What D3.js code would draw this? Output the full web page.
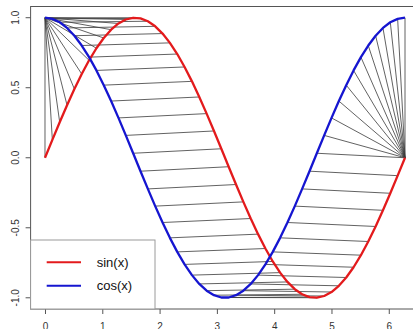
<!DOCTYPE html>
<html>
<head>
<meta charset="utf-8">
<script src="https://cdn.jsdelivr.net/npm/d3@7"></script>
<style>
  html, body { margin: 0; padding: 0; background: #fff; overflow: hidden; }
  svg { display: block; font-family: "Liberation Sans", Arial, sans-serif; }
</style>
</head>
<body>
<svg id="chart" width="413" height="329"></svg>
<script>
// 50 sample points over [0, 2*pi]
const xs = [0, 0.1282, 0.2565, 0.3847, 0.5129, 0.6411, 0.7694, 0.8976, 1.0258, 1.1541,
  1.2823, 1.4105, 1.5387, 1.6670, 1.7952, 1.9234, 2.0517, 2.1799, 2.3081, 2.4363,
  2.5646, 2.6928, 2.8210, 2.9493, 3.0775, 3.2057, 3.3339, 3.4622, 3.5904, 3.7186,
  3.8468, 3.9751, 4.1033, 4.2315, 4.3598, 4.4880, 4.6162, 4.7444, 4.8727, 5.0009,
  5.1291, 5.2574, 5.3856, 5.5138, 5.6420, 5.7703, 5.8985, 6.0267, 6.1550, 6.2832];

const sinY = [0, 0.1279, 0.2537, 0.3753, 0.4907, 0.5981, 0.6957, 0.7818, 0.8551, 0.9144,
  0.9587, 0.9872, 0.9995, 0.9954, 0.9749, 0.9385, 0.8867, 0.8203, 0.7405, 0.6482,
  0.5455, 0.4339, 0.3151, 0.1912, 0.0641, -0.0641, -0.1912, -0.3151, -0.4339, -0.5455,
  -0.6482, -0.7405, -0.8203, -0.8867, -0.9385, -0.9749, -0.9954, -0.9995, -0.9872, -0.9587,
  -0.9144, -0.8551, -0.7818, -0.6957, -0.5981, -0.4907, -0.3753, -0.2537, -0.1279, 0];

const cosY = [1, 0.9918, 0.9673, 0.9269, 0.8713, 0.8014, 0.7184, 0.6235, 0.5184, 0.4048,
  0.2845, 0.1596, 0.0321, -0.0960, -0.2225, -0.3454, -0.4624, -0.5719, -0.6721, -0.7615,
  -0.8381, -0.9010, -0.9491, -0.9816, -0.9980, -0.9980, -0.9816, -0.9491, -0.9010, -0.8381,
  -0.7615, -0.6721, -0.5719, -0.4624, -0.3454, -0.2225, -0.0960, 0.0321, 0.1596, 0.2845,
  0.4048, 0.5184, 0.6235, 0.7184, 0.8014, 0.8713, 0.9269, 0.9673, 0.9918, 1];

const xTicks = [0, 1, 2, 3, 4, 5, 6];
const yTicks = [-1, -0.5, 0, 0.5, 1];
const seriesNames = ['sin(x)', 'cos(x)'];
const seriesColors = ['#e31a1c', '#1515d0'];
const lag = 12; // index offset between the sin point and the cos point it is joined to

const svg = d3.select('#chart');

const x = d3.scaleLinear().domain([-0.2513, 6.5345]).range([30.6, 419.4]);
const y = d3.scaleLinear().domain([-1.08, 1.08]).range([309, 6.5]);

// joining segments
const n = xs.length;
const pairs = [];
for (let k = 0; k < n + lag; k++) {
  const a = Math.min(Math.max(k, 0), n - 1);
  const b = Math.min(Math.max(k - lag, 0), n - 1);
  pairs.push([a, b]);
}

svg.append('g')
  .selectAll('line')
  .data(pairs)
  .join('line')
  .attr('x1', d => x(xs[d[0]]))
  .attr('y1', d => y(sinY[d[0]]))
  .attr('x2', d => x(xs[d[1]]))
  .attr('y2', d => y(cosY[d[1]]))
  .attr('stroke', '#3a3a3a')
  .attr('stroke-width', 0.8);

// curves
const line = d3.line().x(d => x(d[0])).y(d => y(d[1]));
[sinY, cosY].forEach((ys, i) => {
  svg.append('path')
    .datum(xs.map((v, j) => [v, ys[j]]))
    .attr('d', line)
    .attr('fill', 'none')
    .attr('stroke', seriesColors[i])
    .attr('stroke-width', 2.3)
    .attr('stroke-linejoin', 'round');
});

// plot box
svg.append('rect')
  .attr('x', 30.6).attr('y', 6.5)
  .attr('width', 419.4 - 30.6).attr('height', 309 - 6.5)
  .attr('fill', 'none')
  .attr('stroke', '#555')
  .attr('stroke-width', 1);

// x axis
const xAxis = svg.append('g')
  .attr('transform', 'translate(0,309)')
  .call(d3.axisBottom(x).tickValues(xTicks).tickSize(5).tickPadding(9).tickFormat(d3.format('d')));
xAxis.select('.domain').remove();
xAxis.selectAll('line').attr('stroke', '#555');
xAxis.selectAll('text').attr('font-size', '10px').attr('fill', '#333')
  .attr('font-family', '"Liberation Sans", Arial, sans-serif');

// y axis (rotated labels, R style)
const yAxis = svg.append('g');
yAxis.selectAll('line')
  .data(yTicks)
  .join('line')
  .attr('x1', 25.6).attr('x2', 30.6)
  .attr('y1', d => y(d)).attr('y2', d => y(d))
  .attr('stroke', '#555');
yAxis.selectAll('text')
  .data(yTicks)
  .join('text')
  .attr('transform', d => `translate(18.7,${y(d)}) rotate(-90)`)
  .attr('text-anchor', 'middle')
  .attr('font-size', '10px')
  .attr('fill', '#333')
  .text(d => d3.format('.1f')(d).replace('−', '-'));

// legend
const legend = svg.append('g');
legend.append('rect')
  .attr('x', 30.6).attr('y', 240)
  .attr('width', 155 - 30.6).attr('height', 309 - 240)
  .attr('fill', '#fff')
  .attr('stroke', '#9a9a9a')
  .attr('stroke-width', 1);
seriesNames.forEach((name, i) => {
  const ly = 262.3 + i * 23.4;
  legend.append('line')
    .attr('x1', 46.7).attr('x2', 81)
    .attr('y1', ly).attr('y2', ly)
    .attr('stroke', seriesColors[i])
    .attr('stroke-width', 2);
  legend.append('text')
    .attr('x', 96.7).attr('y', ly)
    .attr('dy', '0.35em')
    .attr('font-size', '13px')
    .attr('fill', '#111')
    .text(name);
});
</script>
</body>
</html>
